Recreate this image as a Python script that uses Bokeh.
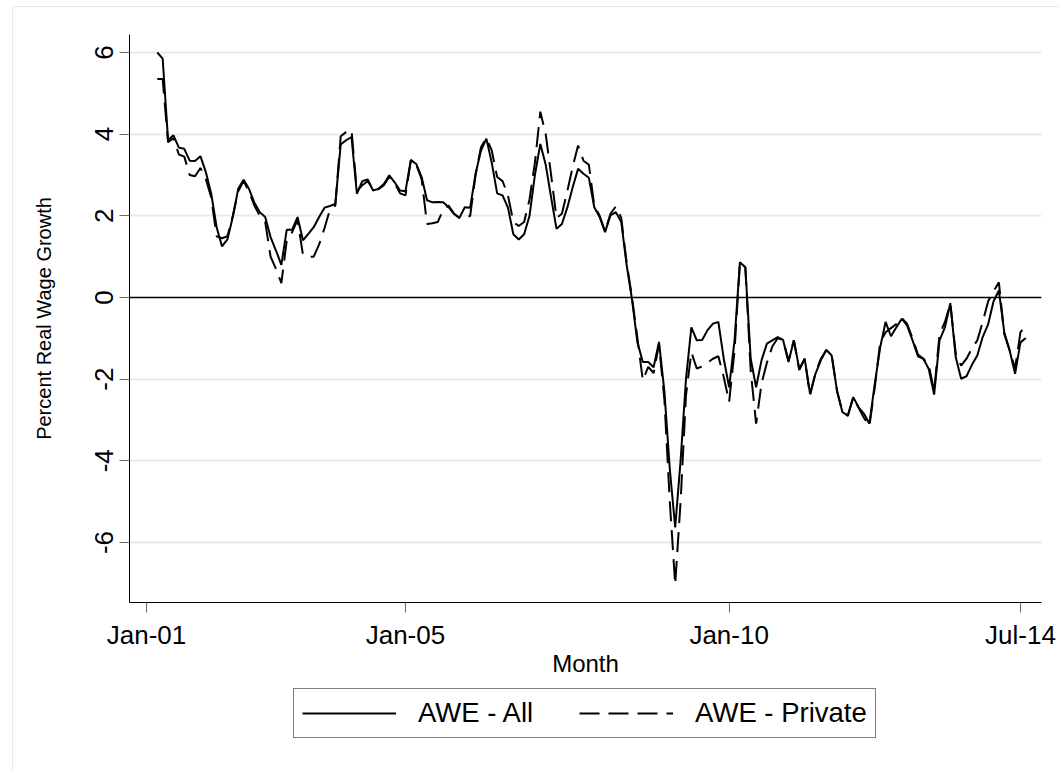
import pandas as pd
from bokeh.plotting import figure
from bokeh.layouts import column
from bokeh.models import (FixedTicker, Span, Legend, LegendItem, ColumnDataSource,
                          Range1d)
from bokeh.embed import file_html
from bokeh.resources import INLINE

# Monthly real wage growth (percent), March 2001 - August 2014
start_month = "2001-03"

awe_all = [
    6.0, 5.85, 3.85, 3.97, 3.67, 3.64, 3.35, 3.34, 3.46, 3.07,
    2.54, 1.72, 1.25, 1.42, 1.97, 2.66, 2.88, 2.66, 2.32, 2.09,
    1.97, 1.48, 1.15, 0.8, 1.66, 1.66, 1.97, 1.40, 1.56, 1.72,
    1.97, 2.2, 2.24, 2.29, 3.75, 3.85, 3.93, 2.54, 2.85, 2.89,
    2.62, 2.66, 2.78, 2.99, 2.82, 2.62, 2.60, 3.37, 3.27, 2.95,
    2.38, 2.33, 2.34, 2.33, 2.21, 2.05, 1.95, 2.21, 2.2, 3.03,
    3.6, 3.89, 3.3, 2.55, 2.5, 2.2, 1.55, 1.42, 1.55, 2.0,
    3.0, 3.76, 3.25, 2.45, 1.68, 1.80, 2.2, 2.7, 3.15, 3.03,
    2.93, 2.21, 1.97, 1.60, 2.01, 2.09, 1.85, 0.8, -0.05, -1.1,
    -1.58, -1.58, -1.71, -1.09, -2.3, -4.2, -5.63, -4.0, -2.0, -0.73,
    -1.05, -1.04, -0.8, -0.64, -0.60, -1.5, -2.2, -1.05, 0.86, 0.74,
    -1.5, -2.2, -1.54, -1.13, -1.05, -0.97, -1.04, -1.58, -1.05, -1.75,
    -1.50, -2.36, -1.87, -1.54, -1.28, -1.42, -2.28, -2.81, -2.89, -2.44,
    -2.69, -2.85, -3.09, -2.11, -1.22, -0.60, -0.95, -0.73, -0.52, -0.69,
    -1.05, -1.44, -1.50, -1.75, -2.38, -1.05, -0.73, -0.14, -1.46, -1.99,
    -1.93, -1.65, -1.42, -0.97, -0.66, -0.1, 0.17, -0.85, -1.3, -1.87,
    -1.1, -0.99,
]

awe_private = [
    5.35, 5.35, 3.8, 3.9, 3.5, 3.45, 3.0, 2.97, 3.17, 2.9,
    2.45, 1.5, 1.45, 1.5, 2.0, 2.6, 2.85, 2.6, 2.25, 2.0,
    1.85, 1.0, 0.7, 0.35, 1.4, 1.6, 1.9, 1.05, 1.0, 1.0,
    1.3, 1.7, 2.15, 2.25, 3.95, 4.05, 4.1, 2.6, 2.75, 2.85,
    2.65, 2.65, 2.75, 2.95, 2.8, 2.55, 2.5, 3.35, 3.25, 2.9,
    1.8, 1.82, 1.85, 2.15, 2.25, 2.05, 1.95, 1.93, 2.0, 3.0,
    3.68, 3.9, 3.6, 2.95, 2.85, 2.5, 1.85, 1.75, 1.85, 2.4,
    3.3, 4.55, 4.0, 3.0, 1.95, 2.05, 2.6, 3.2, 3.72, 3.35,
    3.25, 2.25, 2.0, 1.62, 2.05, 2.23, 1.95, 0.85, 0.0, -1.0,
    -2.03, -1.7, -1.85, -1.15, -2.5, -5.0, -7.03, -5.0, -2.4, -1.34,
    -1.74, -1.69, -1.6, -1.5, -1.44, -1.95, -2.56, -1.3, 0.86, 0.74,
    -1.8, -3.09, -2.11, -1.6, -1.2, -1.0, -1.04, -1.55, -1.05, -1.78,
    -1.5, -2.4, -1.85, -1.5, -1.3, -1.4, -2.3, -2.8, -2.9, -2.45,
    -2.7, -2.95, -3.15, -2.2, -1.1, -0.85, -0.75, -0.65, -0.5, -0.65,
    -1.0, -1.4, -1.5, -1.65, -2.3, -0.9, -0.6, -0.15, -1.37, -1.67,
    -1.5, -1.25, -1.05, -0.6, -0.1, 0.15, 0.37, -0.9, -1.3, -1.74,
    -0.85, -0.71,
]

tick_months = ["2001-01", "2005-01", "2010-01", "2014-07"]
tick_labels = ["Jan-01", "Jan-05", "Jan-10", "Jul-14"]
y_ticks = [-6, -4, -2, 0, 2, 4, 6]
y_tick_labels = ["-6", "-4", "-2", "0", "2", "4", "6"]
series_labels = ["AWE - All", "AWE - Private"]

FONT = "Liberation Sans"
GRID = "#e4ebef"

base = pd.Period("2001-01", freq="M")


def month_index(p):
    return (p.year - base.year) * 12 + (p.month - base.month)


periods = pd.period_range(start_month, periods=len(awe_all), freq="M")
source = ColumnDataSource(dict(
    m=[month_index(p) for p in periods],
    awe_all=awe_all,
    awe_private=awe_private,
))
tick_pos = [month_index(pd.Period(t, freq="M")) for t in tick_months]

# ---- main chart -------------------------------------------------------
p = figure(
    width=1046, height=676,
    output_backend="svg", toolbar_location=None,
    x_range=Range1d(-3.15, 165.9), y_range=Range1d(-7.47, 6.44),
    min_border_left=116, min_border_right=18,
    min_border_top=27, min_border_bottom=81,
)
p.background_fill_color = "white"
p.border_fill_color = "white"
p.outline_line_color = None

for ax in (p.xaxis[0], p.yaxis[0]):
    ax.axis_line_color = "black"
    ax.axis_line_width = 1
    ax.major_tick_line_color = "#666666"
    ax.major_tick_out = 10
    ax.major_tick_in = 0
    ax.minor_tick_line_color = None
    ax.major_label_text_font = FONT
    ax.major_label_text_font_size = "26px"
    ax.major_label_text_color = "black"
    ax.axis_label_text_font = FONT
    ax.axis_label_text_font_style = "normal"
    ax.axis_label_text_color = "black"

p.xaxis.ticker = FixedTicker(ticks=tick_pos)
p.xaxis.major_label_overrides = dict(zip(tick_pos, tick_labels))
p.xaxis.axis_label = "Month"
p.xaxis.axis_label_text_font_size = "24px"
p.xaxis.major_label_standoff = 7
p.xaxis.axis_label_standoff = -3

p.yaxis.ticker = FixedTicker(ticks=y_ticks)
p.yaxis.major_label_overrides = dict(zip(y_ticks, y_tick_labels))
p.yaxis.major_label_orientation = "vertical"
p.yaxis.axis_label = "Percent Real Wage Growth"
p.yaxis.axis_label_text_font_size = "20px"
p.yaxis.major_label_standoff = 6
p.yaxis.axis_label_standoff = 38

p.xgrid.grid_line_color = None
p.ygrid.ticker = FixedTicker(ticks=[t for t in y_ticks if t != 0])
p.ygrid.grid_line_color = GRID
p.ygrid.grid_line_width = 2

p.add_layout(Span(location=0, dimension="width", line_color="black",
                  line_width=1.5))

line_styles = [dict(line_color="black", line_width=2),
               dict(line_color="black", line_width=2, line_dash="20 9")]
series_fields = ["awe_all", "awe_private"]

for field, style in zip(series_fields, line_styles):
    p.line("m", field, source=source, **style)

# ---- legend strip below the chart ---------------------------------------
# Same series, drawn outside this strip's visible range, so only the key shows.
key = figure(
    width=1046, height=88, output_backend="svg", toolbar_location=None,
    x_range=Range1d(1000, 1001), y_range=Range1d(1000, 1001),
    x_axis_type=None, y_axis_type=None,
    min_border_left=116, min_border_right=18, min_border_top=0,
    min_border_bottom=0,
)
key.outline_line_color = None
key.grid.visible = False
key.background_fill_color = "white"
key.border_fill_color = "white"

key_items = []
for label, field, style in zip(series_labels, series_fields, line_styles):
    r = key.line("m", field, source=source, **style)
    key_items.append(LegendItem(label=label, renderers=[r]))

legend = Legend(
    items=key_items,
    orientation="horizontal", location=(164, 33),
    label_text_font=FONT, label_text_font_size="27.5px",
    label_text_color="black",
    glyph_width=94, glyph_height=26, label_height=26,
    label_standoff=22, spacing=46, padding=8, margin=0,
    border_line_color="black", border_line_width=1,
    background_fill_color="white",
)
key.add_layout(legend, "center")

layout = column(p, key, spacing=0)
# faint outer frame of the graph region
layout.styles = {
    "margin-left": "12px", "margin-top": "6px",
    "border-left": "1px solid #e4ebef", "border-top": "1px solid #e4ebef",
}

open("out.html", "w").write(file_html(layout, INLINE))
